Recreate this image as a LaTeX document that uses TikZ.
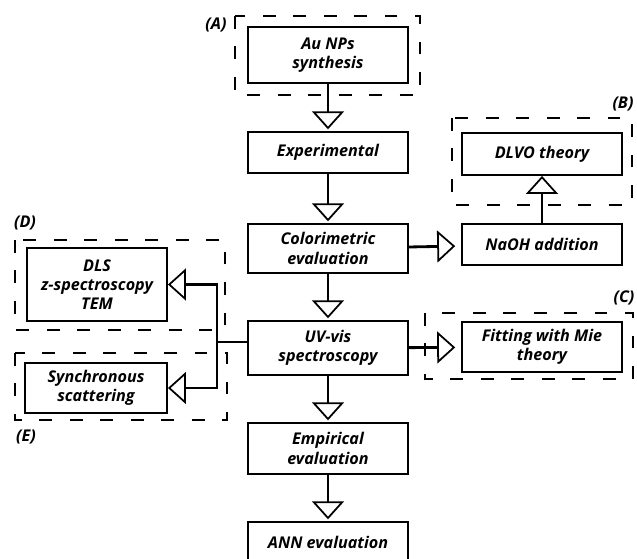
\documentclass[tikz,border=0pt]{standalone}
\usepackage{fontspec}
\setmainfont{Open Sans}
\usetikzlibrary{arrows.meta}

\tikzset{
	box/.style={draw, line width=1.6pt, minimum width=4.8cm, align=center, inner sep=2pt,
		font=\fontsize{13.8}{16.5}\selectfont\itshape\bfseries},
	frame/.style={line width=2.3pt, dash pattern=on 11pt off 15pt},
	flow/.style={line width=2.4pt, -{Triangle[open, length=0.54cm, width=0.96cm, line width=1.5pt]}},
	tag/.style={font=\fontsize{13.8}{16.5}\selectfont\itshape\bfseries}
}

\begin{document}
\begin{tikzpicture}[x=0.03cm, y=-0.03cm]
	
	\useasboundingbox (0,0) rectangle (637,559);
	
	% Hauptkette
	\node[box, minimum height=1.68cm] (synth) at (328,55) {Au NPs\\synthesis};
	\node[box, minimum height=1.23cm] (exper) at (328,152.5) {Experimental};
	\node[box, minimum height=1.47cm] (color) at (328,248.5) {Colorimetric\\evaluation};
	\node[box, minimum height=1.62cm] (uvvis) at (328,348) {UV-vis\\spectroscopy};
	\node[box, minimum height=1.53cm] (empir) at (328,448.5) {Empirical\\evaluation};
	\node[box, minimum height=1.23cm] (ann) at (328,542.5) {ANN evaluation};
	
	% rechts
	\node[box, minimum height=1.23cm] (naoh) at (542,244.5) {NaOH addition};
	\node[box, minimum height=1.26cm] (dlvo) at (542,154) {DLVO theory};
	\node[box, minimum height=1.5cm] (mie) at (542,347) {Fitting with Mie\\theory};
	
	% links
	\node[box, minimum width=4.2cm, minimum height=2.19cm] (dls) at (97,284.5) {DLS\\z-spectroscopy\\TEM};
	\node[box, minimum width=4.26cm, minimum height=1.5cm] (sync) at (96,388) {Synchronous\\scattering};
	
	% Rahmen
	\draw[frame] (235,16) rectangle (420,95);
	\draw[frame] (452,118) rectangle (632,205);
	\draw[frame] (425,313) rectangle (633,379);
	\draw[frame] (15,240) rectangle (225,330);
	\draw[frame] (15,353) rectangle (227,420);
	
	% Beschriftung
	\node[tag] (tagA) at (216,25) {(A)};
	\node[tag] (tagB) at (623,104) {(B)};
	\node[tag] (tagC) at (624,298) {(C)};
	\node[tag] (tagD) at (25,223) {(D)};
	\node[tag] (tagE) at (26,437) {(E)};
	
	% Pfeile
	\draw[flow, shorten >=1.5pt] (synth) -- (exper);
	\draw[flow, shorten >=1.5pt] (exper) -- (color);
	\draw[flow, shorten >=1.5pt] (color) -- (uvvis);
	\draw[flow, shorten >=1.5pt] (uvvis) -- (empir);
	\draw[flow, shorten >=1.5pt] (empir) -- (ann);
	\draw[flow, shorten >=5pt] (color) -- (naoh);
	\draw[flow] (naoh) -- (dlvo);
	\draw[flow, shorten >=5pt] (uvvis) -- (mie);
	
	\coordinate (split) at (217,342);
	\draw[line width=2.4pt] (split -| uvvis.west) -- (split);
	\draw[flow] (split) |- (dls.east);
	\draw[flow] (split) |- (sync.east);
	
\end{tikzpicture}
\end{document}
